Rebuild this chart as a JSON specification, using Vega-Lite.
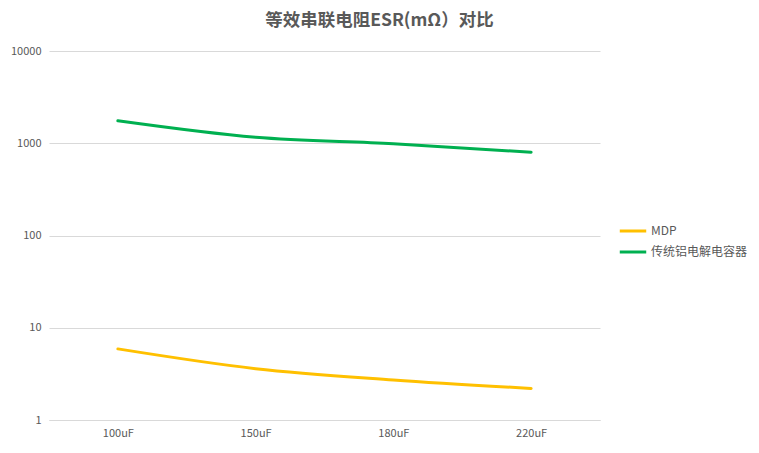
{
  "$schema": "https://vega.github.io/schema/vega-lite/v6.json",
  "autosize": {"type": "none"},
  "width": 551,
  "height": 369,
  "padding": {"left": 49, "top": 51, "right": 159, "bottom": 33},
  "background": "white",
  "title": {
    "text": "等效串联电阻ESR(mΩ）对比",
    "font": "Noto Sans CJK SC",
    "fontSize": 17.5,
    "fontWeight": "bold",
    "color": "#595959",
    "anchor": "middle",
    "dx": 55,
    "offset": 16
  },
  "data": {
    "values": [
      {"cap": "100uF", "series": "MDP", "esr": 5.9},
      {"cap": "150uF", "series": "MDP", "esr": 3.6},
      {"cap": "180uF", "series": "MDP", "esr": 2.72},
      {"cap": "220uF", "series": "MDP", "esr": 2.2},
      {"cap": "100uF", "series": "传统铝电解电容器", "esr": 1750},
      {"cap": "150uF", "series": "传统铝电解电容器", "esr": 1160},
      {"cap": "180uF", "series": "传统铝电解电容器", "esr": 990},
      {"cap": "220uF", "series": "传统铝电解电容器", "esr": 800}
    ]
  },
  "mark": {"type": "line", "strokeWidth": 3, "interpolate": "monotone", "strokeCap": "round"},
  "encoding": {
    "x": {
      "field": "cap",
      "type": "nominal",
      "sort": null,
      "scale": {"paddingInner": 0, "paddingOuter": 0.5},
      "axis": {
        "title": null,
        "labelAngle": 0,
        "labelFont": "Noto Sans CJK SC",
        "labelFontSize": 11,
        "labelColor": "#595959",
        "labelPadding": 7,
        "ticks": false,
        "domainColor": "#d9d9d9",
        "grid": false
      }
    },
    "y": {
      "field": "esr",
      "type": "quantitative",
      "scale": {"type": "log", "domain": [1, 10000], "nice": false},
      "axis": {
        "title": null,
        "values": [1, 10, 100, 1000, 10000],
        "format": "d",
        "labelFont": "Noto Sans CJK SC",
        "labelFontSize": 11,
        "labelColor": "#595959",
        "labelPadding": 8,
        "ticks": false,
        "domain": false,
        "gridColor": "#d9d9d9",
        "gridWidth": 1
      }
    },
    "color": {
      "field": "series",
      "type": "nominal",
      "scale": {"domain": ["MDP", "传统铝电解电容器"], "range": ["#FFC000", "#00B050"]},
      "legend": {
        "title": null,
        "orient": "none",
        "legendX": 569,
        "legendY": 165,
        "symbolType": "stroke",
        "symbolStrokeWidth": 3,
        "symbolSize": 700,
        "labelFont": "Noto Sans CJK SC",
        "labelFontSize": 12,
        "labelColor": "#595959",
        "labelOffset": 3,
        "rowPadding": 0
      }
    }
  },
  "config": {"view": {"stroke": null}}
}
